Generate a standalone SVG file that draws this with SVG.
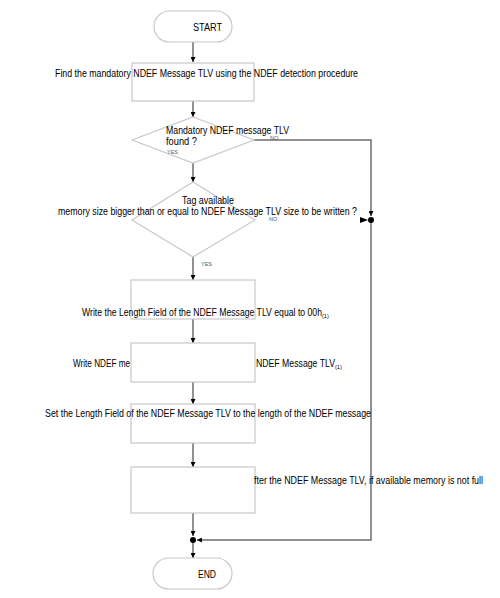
<svg xmlns="http://www.w3.org/2000/svg" width="500" height="598" viewBox="0 0 500 598">
<defs>
<style>
.box{fill:#fff;stroke:#c8c8c8;stroke-width:1.2}
.t{font-family:"Liberation Sans",Arial,sans-serif;font-size:10px;fill:#000}
.lbl{font-family:"Liberation Sans",Arial,sans-serif;font-size:5.5px;fill:#4a5a80}
.sub{font-size:5.5px}
.ln{fill:none;stroke:#6e6e6e;stroke-width:1.5}
</style>
<marker id="arr" viewBox="0 0 10 10" refX="10" refY="5" markerWidth="5" markerHeight="5" orient="auto" markerUnits="userSpaceOnUse">
<path d="M0,0 L10,5 L0,10 z" fill="#000"/>
</marker>
</defs>
<rect width="500" height="598" fill="#fff"/>

<g id="connectors">
<line class="ln" x1="193" y1="42" x2="193" y2="62" marker-end="url(#arr)"/>
<line class="ln" x1="193" y1="101" x2="193" y2="117" marker-end="url(#arr)"/>
<line class="ln" x1="193" y1="163" x2="193" y2="182" marker-end="url(#arr)"/>
<polyline class="ln" points="254,140 371,140 371,216" marker-end="url(#arr)"/>
<path d="M360,217 L368,220 L360,223 z" fill="#000"/>
<polyline class="ln" points="371,222 371,540 197,540" marker-end="url(#arr)"/>
<line class="ln" x1="193" y1="257" x2="193" y2="280" marker-end="url(#arr)"/>
<line class="ln" x1="193" y1="319" x2="193" y2="343" marker-end="url(#arr)"/>
<line class="ln" x1="193" y1="382" x2="193" y2="404" marker-end="url(#arr)"/>
<line class="ln" x1="193" y1="443" x2="193" y2="467" marker-end="url(#arr)"/>
<line class="ln" x1="193" y1="513" x2="193" y2="536" marker-end="url(#arr)"/>
<circle cx="193" cy="540" r="3" fill="#000"/>
<circle cx="371" cy="220" r="3" fill="#000"/>
<line class="ln" x1="193" y1="543" x2="193" y2="558" marker-end="url(#arr)"/>
</g>

<g id="start">
<rect class="box" x="154" y="11" width="78" height="31" rx="15.5"/>
<text class="t" x="193" y="31" textLength="29" lengthAdjust="spacingAndGlyphs">START</text>
</g>

<g id="box1">
<rect class="box" x="132" y="63" width="122" height="38"/>
<text class="t" x="55" y="77" textLength="303" lengthAdjust="spacingAndGlyphs">Find the mandatory NDEF Message TLV using the NDEF detection procedure</text>
</g>

<g id="decision1">
<polygon class="box" points="193,117 254,140 193,163 132,140"/>
<text class="t" x="166" y="134" textLength="123" lengthAdjust="spacingAndGlyphs">Mandatory NDEF message TLV</text>
<text class="t" x="166" y="145" textLength="31" lengthAdjust="spacingAndGlyphs">found ?</text>
<text class="lbl" x="167" y="154">YES</text>
<text class="lbl" x="270" y="140">NO</text>
</g>

<g id="decision2">
<polygon class="box" points="193,182 255,220 193,257 132,220"/>
<text class="t" x="182" y="204" textLength="52" lengthAdjust="spacingAndGlyphs">Tag available</text>
<text class="t" x="58" y="215" textLength="299" lengthAdjust="spacingAndGlyphs">memory size bigger than or equal to NDEF Message TLV size to be written ?</text>
<text class="lbl" x="201" y="266">YES</text>
<text class="lbl" x="269" y="221">NO</text>
</g>

<g id="box2">
<rect class="box" x="131" y="280" width="124" height="39"/>
<text class="t" x="82" y="316"><tspan textLength="240" lengthAdjust="spacingAndGlyphs">Write the Length Field of the NDEF Message TLV equal to 00h</tspan><tspan class="sub" dy="1.5">(1)</tspan></text>
</g>

<g id="box3">
<text class="t" x="73" y="367" textLength="57" lengthAdjust="spacingAndGlyphs">Write NDEF me</text>
<rect class="box" x="131" y="343" width="124" height="39"/>
<text class="t" x="256" y="367"><tspan textLength="79" lengthAdjust="spacingAndGlyphs">NDEF Message TLV</tspan><tspan class="sub" dy="1.5">(1)</tspan></text>
</g>

<g id="box4">
<rect class="box" x="131" y="404" width="124" height="39"/>
<text class="t" x="45" y="417" textLength="326" lengthAdjust="spacingAndGlyphs">Set the Length Field of the NDEF Message TLV to the length of the NDEF message</text>
</g>

<g id="box5">
<rect class="box" x="131" y="467" width="124" height="46"/>
<text class="t" x="254" y="484" textLength="229" lengthAdjust="spacingAndGlyphs">fter the NDEF Message TLV, if available memory is not full</text>
</g>

<g id="end">
<rect class="box" x="153" y="558" width="79" height="31" rx="15.5"/>
<text class="t" x="198" y="578" textLength="18" lengthAdjust="spacingAndGlyphs">END</text>
</g>
</svg>
